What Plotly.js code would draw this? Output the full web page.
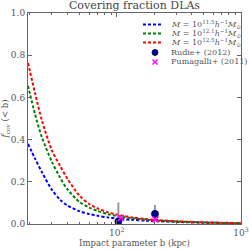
<!DOCTYPE html>
<html><head><meta charset="utf-8">
<script src="https://cdn.plot.ly/plotly-3.0.1.min.js"></script>
<style>html,body{margin:0;padding:0;background:#fff}#c{width:249px;height:250px}</style>
</head><body><div id="c"></div>
<script>
// Impact parameter grid (kpc)
const radius = [19.3, 22, 25, 30, 35, 40, 50, 60, 70, 85, 100, 130, 170, 220, 300, 450, 700, 1000];
// Model covering fractions
const fcovM115 = [0.38, 0.31, 0.245, 0.163, 0.115, 0.088, 0.061, 0.047, 0.039, 0.031, 0.026, 0.020, 0.016, 0.013, 0.010, 0.007, 0.005, 0.003];
const fcovM121 = [0.655, 0.52, 0.41, 0.296, 0.22, 0.165, 0.105, 0.078, 0.062, 0.046, 0.038, 0.028, 0.021, 0.016, 0.012, 0.008, 0.005, 0.003];
const fcovM125 = [0.763, 0.62, 0.49, 0.35, 0.275, 0.215, 0.135, 0.095, 0.074, 0.055, 0.045, 0.032, 0.024, 0.018, 0.013, 0.009, 0.006, 0.004];
// Observations
const rudieB = [103, 203];
const rudieF = [0.012, 0.048];
const rudieErrPlus = [0.09, 0.042];
const rudieErrMinus = [0.012, 0.028];
const fumaB = [108, 205];
const fumaF = [0.028, 0.022];
// Labels
const seriesNames = [
  '<i>M</i> = 10<sup>11.5</sup><i>h</i><sup>−1</sup><i>M</i><sub>⊙</sub>',
  '<i>M</i> = 10<sup>12.1</sup><i>h</i><sup>−1</sup><i>M</i><sub>⊙</sub>',
  '<i>M</i> = 10<sup>12.5</sup><i>h</i><sup>−1</sup><i>M</i><sub>⊙</sub>',
  'Rudie+ (2012)',
  'Fumagalli+ (2011)'
];
const xTickVals = [100, 1000];
const xTickText = ['10<sup>2</sup>', '10<sup>3</sup>'];
const yTickVals = [0, 0.2, 0.4, 0.6, 0.8, 1.0];
const yTickText = ['0.0', '0.2', '0.4', '0.6', '0.8', '1.0'];
const minorX = [20,30,40,50,60,70,80,90,200,300,400,500,600,700,800,900];

const colors = ['#0000ff', '#008000', '#ff0000'];
const models = [fcovM115, fcovM121, fcovM125];
const traces = models.map((y, i) => ({
  x: radius, y: y, type: 'scatter', mode: 'lines', name: seriesNames[i],
  line: {color: colors[i], width: 2, dash: '3px,2px', shape: 'spline', smoothing: 0.8},
  showlegend: false, hoverinfo: 'skip'
}));
traces.push({
  x: rudieB, y: rudieF, type: 'scatter', mode: 'markers', name: seriesNames[3],
  marker: {color: '#0000a0', size: 7, line: {color: '#000033', width: 0.8}},
  error_y: {type: 'data', symmetric: false, array: rudieErrPlus, arrayminus: rudieErrMinus,
            color: '#999999', thickness: 2, width: 0},
  showlegend: false
});
traces.push({
  x: fumaB, y: fumaF, type: 'scatter', mode: 'markers', name: seriesNames[4],
  marker: {color: '#ff00ff', size: 6, symbol: 'x-thin', line: {color: '#ff00ff', width: 1.5}},
  showlegend: false
});

// Manual legend (paper coordinates)
const L = 28, R = 241, T = 13, B = 224;
const px = v => (v - L) / (R - L);
const py = v => (B - v) / (B - T);
const rowsY = [24.5, 33.5, 42.5, 52.5, 62];
const shapes = [];
const annotations = [];
for (let i = 0; i < 3; i++) {
  shapes.push({type: 'line', xref: 'paper', yref: 'paper', x0: px(143), x1: px(162),
    y0: py(rowsY[i]), y1: py(rowsY[i]), line: {color: colors[i], width: 2, dash: '3px,2px'}});
}
shapes.push({type: 'circle', xref: 'paper', yref: 'paper', x0: px(152), x1: px(158),
  y0: py(rowsY[3] + 3), y1: py(rowsY[3] - 3), fillcolor: '#0000a0', line: {color: '#000033', width: 0.8}});
shapes.push({type: 'line', xref: 'paper', yref: 'paper', x0: px(152.5), x1: px(157.5),
  y0: py(rowsY[4] - 2.5), y1: py(rowsY[4] + 2.5), line: {color: '#ff00ff', width: 1.5}});
shapes.push({type: 'line', xref: 'paper', yref: 'paper', x0: px(152.5), x1: px(157.5),
  y0: py(rowsY[4] + 2.5), y1: py(rowsY[4] - 2.5), line: {color: '#ff00ff', width: 1.5}});
for (let i = 0; i < 5; i++) {
  annotations.push({xref: 'paper', yref: 'paper', x: px(169), y: py(rowsY[i]),
    xanchor: 'left', yanchor: 'middle', showarrow: false, text: seriesNames[i],
    font: {family: 'DejaVu Serif, serif', size: 8, color: '#555'}});
}

const layout = {
  width: 249, height: 250,
  margin: {l: 28, r: 8, t: 13, b: 26, pad: 0},
  paper_bgcolor: '#fff', plot_bgcolor: '#fff',
  font: {family: 'DejaVu Serif, serif', size: 8.5, color: '#555'},
  title: {text: 'Covering fraction DLAs', x: 134.5 / 249, xanchor: 'center', y: 0.995, yanchor: 'top',
    font: {family: 'DejaVu Serif, serif', size: 11, color: '#444'}},
  showlegend: false,
  xaxis: {type: 'log', range: [Math.log10(19.3), 3], showgrid: false, zeroline: false,
    showline: true, linecolor: '#666', linewidth: 1, mirror: 'ticks',
    ticks: 'inside', ticklen: 4, tickcolor: '#666',
    tickvals: xTickVals, ticktext: xTickText, tickfont: {size: 9, color: '#555'},
    minor: {tickvals: minorX, ticks: 'inside', ticklen: 2, tickcolor: '#666'},
    title: {text: 'Impact parameter b (kpc)', standoff: 2, font: {size: 8.5, color: '#555'}}},
  yaxis: {range: [0, 1], showgrid: false, zeroline: false,
    showline: true, linecolor: '#666', linewidth: 1, mirror: 'ticks',
    ticks: 'inside', ticklen: 4, tickcolor: '#666',
    tickvals: yTickVals, ticktext: yTickText, tickfont: {size: 9, color: '#555'},
    title: {text: '<i>f</i><sub>cov</sub> (< b)', standoff: 1, font: {size: 8.5, color: '#555'}}},
  shapes: shapes,
  annotations: annotations
};
Plotly.newPlot('c', traces, layout, {staticPlot: true, displayModeBar: false});
</script></body></html>
